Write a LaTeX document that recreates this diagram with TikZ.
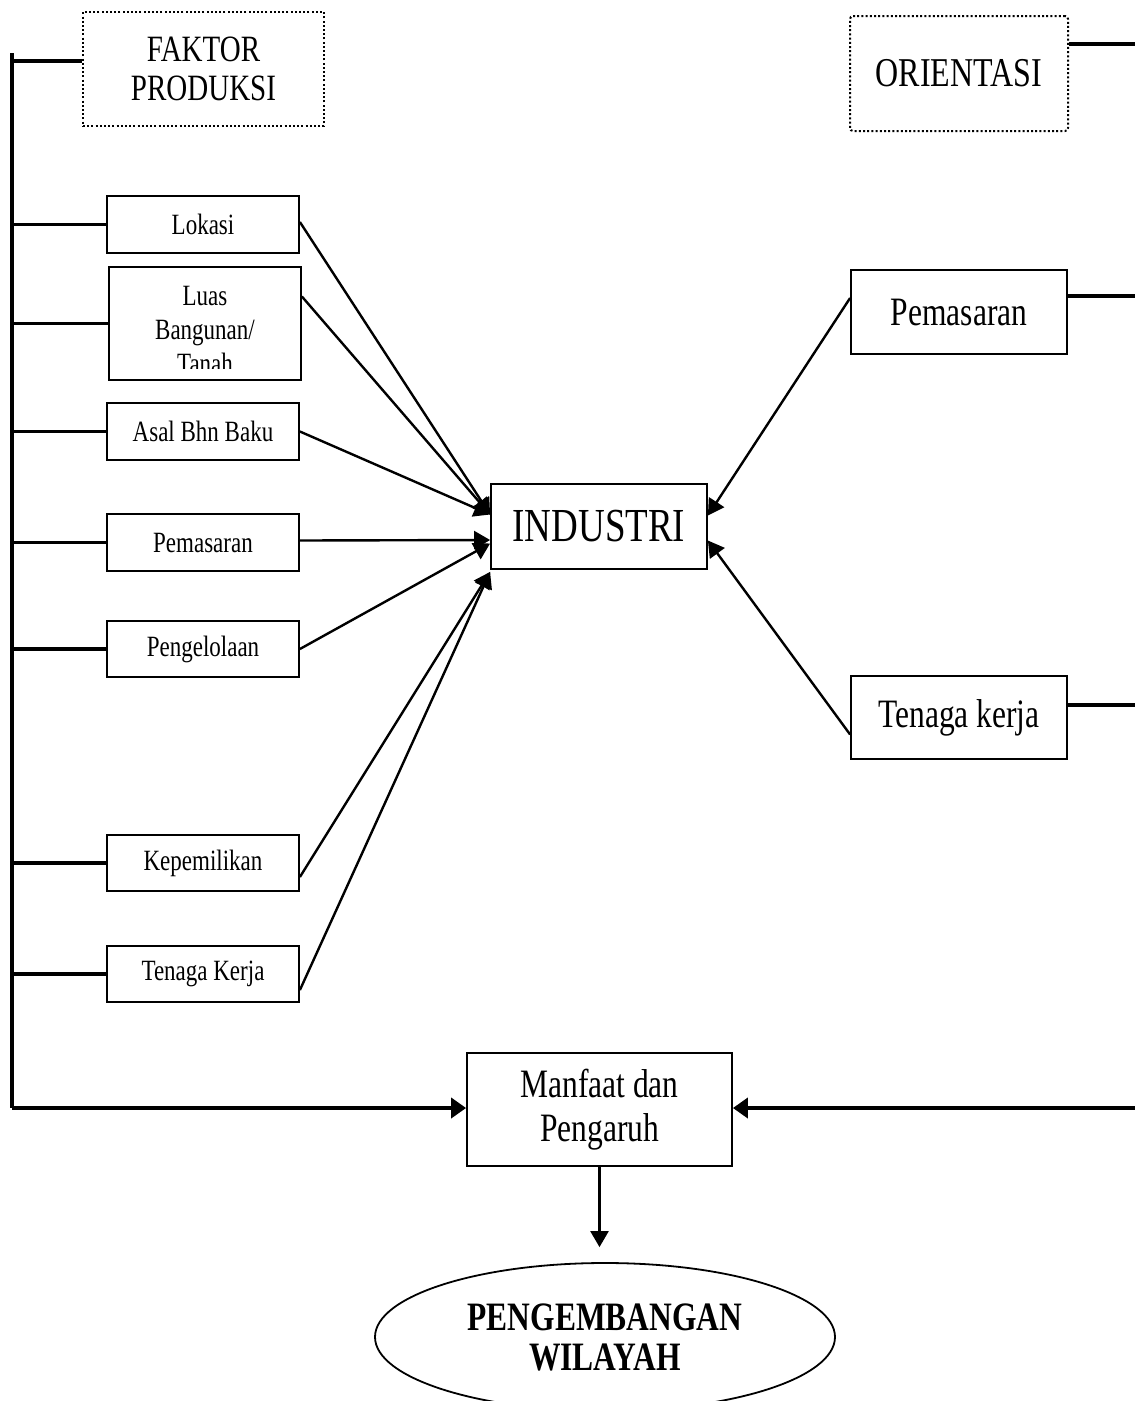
\documentclass[tikz,border=0pt]{standalone}
\usepackage{fontspec}
\usepackage{graphicx}
\setmainfont{Liberation Serif}
\usetikzlibrary{arrows.meta,calc,shapes.geometric}
\newcommand{\vst}[1]{\scalebox{1}[1.28]{#1}}
\tikzset{
  box/.style={draw, line width=1.8pt, inner sep=0pt, align=center},
  dotbox/.style={draw, line width=2pt, dash pattern=on 2pt off 2.2pt, inner sep=0pt, align=center},
  link/.style={line width=3.5pt},
  arr/.style={line width=2.4pt, -{Triangle[length=16pt,width=18pt]}},
  bigarr/.style={line width=4pt, -{Triangle[length=15pt,width=20pt]}},
  small/.style={font=\fontsize{23}{33}\selectfont},
  mid/.style={font=\fontsize{31.5}{44}\selectfont},
}
\begin{document}
\begin{tikzpicture}[x=1pt,y=-1pt]
\useasboundingbox (0,0) rectangle (1135,1401);
\fill[white] (0,0) rectangle (1135,1401);

\coordinate (sptop) at (12,53);
\coordinate (spbot) at (12,1108);
\coordinate (redge) at (1135,0);
\coordinate (rb) at (1135,1108);

% top boxes
\node[dotbox, minimum width=241pt, minimum height=114pt, font=\fontsize{29}{39}\selectfont] (fp) at (203.5,69) {\vst{FAKTOR}\\\vst{PRODUKSI}};
\node[dotbox, rounded corners=3pt, minimum width=218pt, minimum height=115pt, font=\fontsize{32}{40}\selectfont] (ori) at (959,73.5) {\vst{ORIENTASI}};

% left factor boxes
\node[box, small, minimum width=192pt, minimum height=57pt] (lok) at (203,224.5) {\vst{Lokasi}};
\node[box, minimum width=192pt, minimum height=113pt] (luas) at (205,323.5) {};
\begin{scope}
\clip (luas.north west) rectangle ($(luas.south east)+(0,-12)$);
\node[small, anchor=base, inner sep=0pt] (luas1) at (205,305) {\vst{Luas}};
\node[small, anchor=base, inner sep=0pt] (luas2) at (205,339) {\vst{Bangunan/}};
\node[small, anchor=base, inner sep=0pt] (luas3) at (205,373) {\vst{Tanah}};
\end{scope}
\node[box, small, minimum width=192pt, minimum height=57pt] (asal) at (203,431.5) {\vst{Asal Bhn Baku}};
\node[box, small, minimum width=192pt, minimum height=57pt] (pem) at (203,542.5) {\vst{Pemasaran}};
\node[box, small, minimum width=192pt, minimum height=56pt] (peng) at (203,649) {\vst{Pengelolaan}};
\node[box, small, minimum width=192pt, minimum height=56pt] (kep) at (203,863) {\vst{Kepemilikan}};
\node[box, small, minimum width=192pt, minimum height=56pt] (tk) at (203,974) {\vst{Tenaga Kerja}};

% center
\node[box, minimum width=216pt, minimum height=85pt, font=\fontsize{37}{44}\selectfont] (ind) at (599,526.5) {\vst{INDUSTRI}};

% right boxes
\node[box, mid, minimum width=216pt, minimum height=84pt] (pemr) at (959,312) {\vst{Pemasaran}};
\node[box, mid, minimum width=216pt, minimum height=83pt] (tkr) at (959,717.5) {\vst{Tenaga kerja}};

% bottom
\node[box, font=\fontsize{31.5}{44}\selectfont, minimum width=265pt, minimum height=113pt] (mf) at (599.5,1109.5) {\vst{Manfaat dan}\\\vst{Pengaruh}};
\node[draw, ellipse, line width=1.8pt, inner sep=0pt, align=center, minimum width=460pt, minimum height=148pt, font=\bfseries\fontsize{31.5}{40}\selectfont] (ell) at (605,1337) {\vst{PENGEMBANGAN}\\\vst{WILAYAH}};

% link anchor points
\coordinate (fpL) at ($(fp.west)+(0,-8)$);
\coordinate (oriR) at ($(ori.east)+(0,-29.5)$);
\coordinate (pemrR) at ($(pemr.east)+(0,-16)$);
\coordinate (tkrR) at ($(tkr.east)+(0,-12.5)$);

% spine and links
\draw[link] (sptop) -- (spbot);
\draw[link] (fpL) -- (fpL -| sptop);
\foreach \b in {lok,luas,asal,pem,peng,kep,tk}{
  \draw[link] (\b.west) -- (\b.west -| sptop);
}
\draw[link] (oriR) -- (oriR -| redge);
\draw[link] (pemrR) -- (pemrR -| redge);
\draw[link] (tkrR) -- (tkrR -| redge);

% arrows into INDUSTRI
\draw[arr] ($(lok.east)+(0,-2.5)$) -- ($(ind.west)+(0,-12)$);
\draw[arr] ($(luas.east)+(0,-27)$) -- ($(ind.west)+(0,-12)$);
\draw[arr] (asal.east) -- ($(ind.west)+(0,-12)$);
\draw[arr] ($(pem.east)+(0,-2)$) -- ($(ind.west)+(0,13.5)$);
\draw[arr] (peng.east) -- ($(ind.west)+(0,17)$);
\draw[arr] ($(kep.east)+(0,14)$) -- ($(ind.south west)+(0,2)$);
\draw[arr] ($(tk.east)+(0,16)$) -- ($(ind.south west)+(0,2)$);
\draw[arr] ($(pemr.west)+(0,-14)$) -- ($(ind.east)+(0,-11)$);
\draw[arr] ($(tkr.west)+(0,17)$) -- ($(ind.east)+(0,14)$);

% bottom arrows
\draw[bigarr] (spbot) -- (spbot -| mf.west);
\draw[bigarr] (rb) -- (rb -| mf.east);
\draw[arr] (mf.south) -- (mf.south |- ell.north) [shorten >=15pt];
\end{tikzpicture}
\end{document}
